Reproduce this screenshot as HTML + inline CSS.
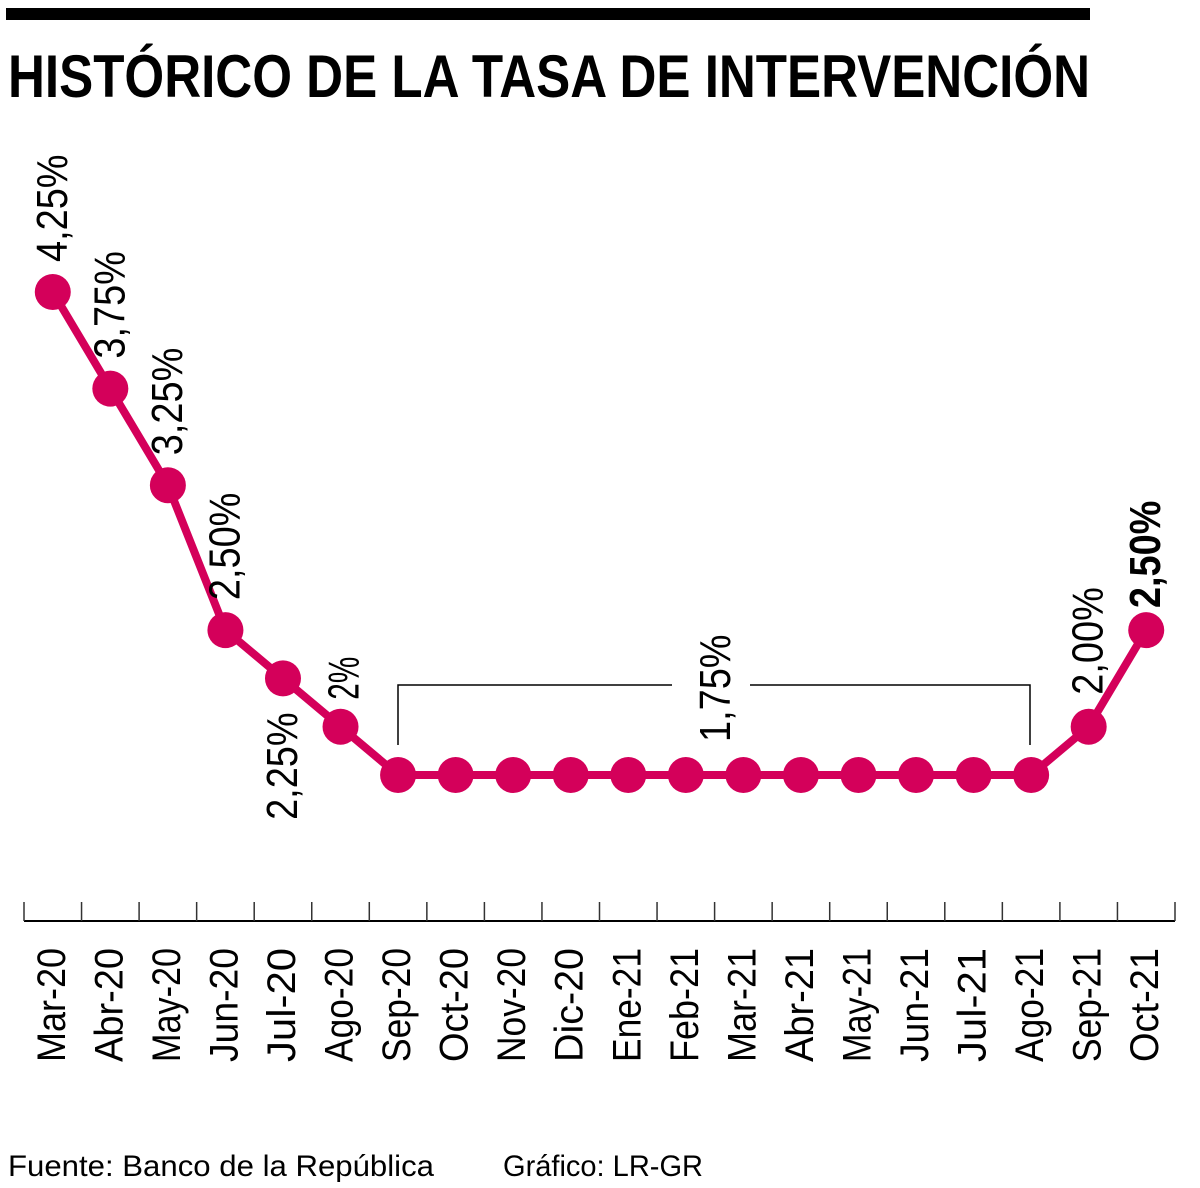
<!DOCTYPE html>
<html><head><meta charset="utf-8"><style>
html,body{margin:0;padding:0;background:#fff;}
svg{display:block;font-family:"Liberation Sans",sans-serif;}
</style></head><body>
<svg id="chart" width="1200" height="1188" viewBox="0 0 1200 1188">
<rect x="6" y="8" width="1084" height="12" fill="#000"/>
<text x="8" y="97" font-size="60" font-weight="bold" textLength="1082" lengthAdjust="spacingAndGlyphs">HISTÓRICO DE LA TASA DE INTERVENCIÓN</text>
<g id="bracket" stroke="#000" stroke-width="1.5" fill="none">
<polyline points="398,745 398,685 672,685"/>
<polyline points="750,685 1030,685 1030,745"/>
</g>
<g id="axis"></g>
<g id="series"></g>
<g id="labels"></g>
<text x="8" y="1176" font-size="30" textLength="426" lengthAdjust="spacingAndGlyphs">Fuente: Banco de la República</text>
<text x="503" y="1176" font-size="30" textLength="200" lengthAdjust="spacingAndGlyphs">Gráfico: LR-GR</text>
</svg>
<script>
const categories = ["Mar-20","Abr-20","May-20","Jun-20","Jul-20","Ago-20","Sep-20","Oct-20","Nov-20","Dic-20","Ene-21","Feb-21","Mar-21","Abr-21","May-21","Jun-21","Jul-21","Ago-21","Sep-21","Oct-21"];
const rates = [4.25,3.75,3.25,2.5,2.25,2,1.75,1.75,1.75,1.75,1.75,1.75,1.75,1.75,1.75,1.75,1.75,1.75,2,2.5];
const valueLabels = ["4,25%","3,75%","3,25%","2,50%","2,25%","2%","","","","","","1,75%","","","","","","","2,00%","2,50%"];
const NS="http://www.w3.org/2000/svg";
const x0=24, step=57.55;
function xPos(i){return x0+step*(i+0.5);}
function yPos(v){return 775-(v-1.75)*193.2;}
function mk(tag,attrs,parent){const e=document.createElementNS(NS,tag);for(const k in attrs)e.setAttribute(k,attrs[k]);parent.appendChild(e);return e;}
const axis=document.getElementById('axis');
let al=mk('line',{x1:x0,y1:921,x2:x0+step*categories.length,y2:921,stroke:'#000','stroke-width':2},axis);


for(let i=0;i<=categories.length;i++){
  const tx=x0+step*i;
  let t=mk('line',{x1:tx,y1:902,x2:tx,y2:921,stroke:'#333','stroke-width':1.5},axis);
  
  
}
categories.forEach((c,i)=>{
  const cx=xPos(i)+12;
  let t=mk('text',{x:0,y:0,'font-size':40,'text-anchor':'end',transform:`translate(${cx},948) rotate(-90)`,textLength:c.length*19,lengthAdjust:'spacingAndGlyphs'},axis);
  t.textContent=c;
  
  
});
const ser=document.getElementById('series');
let pts=rates.map((v,i)=>xPos(i)+','+yPos(v)).join(' ');
let pl=mk('polyline',{points:pts,fill:'none',stroke:'#d4005a','stroke-width':8,'stroke-linejoin':'round'},ser);


rates.forEach((v,i)=>{
  let d=mk('circle',{cx:xPos(i),cy:yPos(v),r:18,fill:'#d4005a'},ser);
  
  
});
const lab=document.getElementById('labels');
valueLabels.forEach((s,i)=>{
  if(!s)return;
  const v=rates[i];
  let cx=xPos(i)+14, yb=yPos(v)-30, anchor='start';
  if(i===4){yb=yPos(v)+34;anchor='end';}
  if(i===11){cx=xPos(i)+44;yb=742;}
  if(i===18){yb=yPos(v)-32;}
  if(i===19){yb=yPos(v)-22;}
  if(i===5){yb=yPos(v)-27;cx=xPos(i)+18;}
  let t=mk('text',{x:0,y:0,'font-size':44,'text-anchor':anchor,transform:`translate(${cx},${yb}) rotate(-90)`,textLength:s.length*21.5,lengthAdjust:'spacingAndGlyphs'},lab);
  if(i===19)t.setAttribute('font-weight','bold');
  t.textContent=s;
  
  
});
</script>
</body></html>
